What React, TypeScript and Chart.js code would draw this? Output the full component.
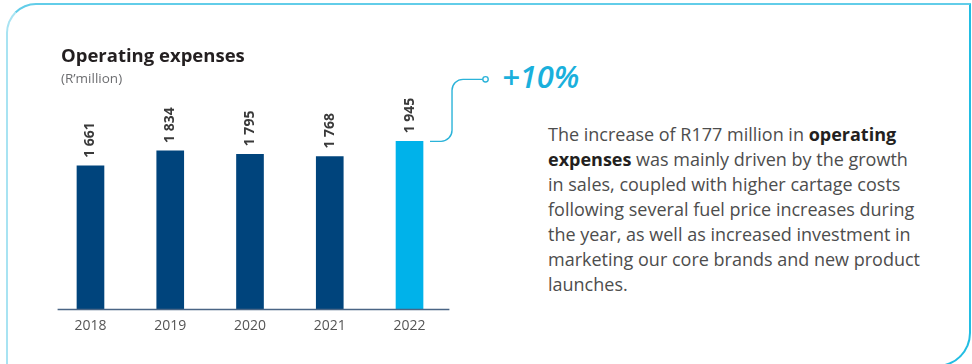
import React, { useEffect, useRef } from "react";
import { Chart, registerables } from "chart.js";

Chart.register(...registerables);

const years = ["2018", "2019", "2020", "2021", "2022"];
const expenses = [1661, 1834, 1795, 1768, 1945];
const valueLabels = ["1 661", "1 834", "1 795", "1 768", "1 945"];
const barColors = ["#00447c", "#00447c", "#00447c", "#00447c", "#00b2ea"];
const titleText = "Operating expenses";
const unitText = "(R\u2019million)";
const changeText = "+10%";

const FONT = "'Open Sans', 'Noto Sans', sans-serif";

const overlayPlugin = {
  id: "overlay",
  afterDatasetsDraw(chart: any) {
    const ctx = chart.ctx;
    const area = chart.chartArea;
    const meta = chart.getDatasetMeta(0);
    ctx.save();
    // baseline axis
    ctx.strokeStyle = "#4a6585";
    ctx.lineWidth = 1.5;
    ctx.beginPath();
    ctx.moveTo(area.left + 7, area.bottom + 0.5);
    ctx.lineTo(area.right, area.bottom + 0.5);
    ctx.stroke();
    // value labels
    ctx.fillStyle = "#3a3a3a";
    ctx.font = `bold 14px ${FONT}`;
    ctx.textAlign = "left";
    ctx.textBaseline = "middle";
    meta.data.forEach((bar: any, i: number) => {
      ctx.save();
      ctx.translate(bar.x, bar.y - 8);
      ctx.rotate(-Math.PI / 2);
      ctx.fillText(valueLabels[i], 0, 0);
      ctx.restore();
    });
    // connector from last bar
    const last = meta.data[meta.data.length - 1];
    const sx = last.x + last.width / 2 + 7;
    const sy = last.y;
    const vx = sx + 22;
    const ty = sy - 62;
    const ex = vx + 31;
    ctx.strokeStyle = "#2bb3d9";
    ctx.lineWidth = 1.4;
    ctx.beginPath();
    ctx.moveTo(sx, sy);
    ctx.arcTo(vx, sy, vx, ty, 11);
    ctx.arcTo(vx, ty, ex, ty, 11);
    ctx.lineTo(ex, ty);
    ctx.stroke();
    ctx.beginPath();
    ctx.fillStyle = "#ffffff";
    ctx.arc(ex + 2.5, ty, 2.7, 0, Math.PI * 2);
    ctx.fill();
    ctx.stroke();
    ctx.restore();
  },
};

function BarChart() {
  const ref = useRef<HTMLCanvasElement>(null);
  useEffect(() => {
    if (!ref.current) return;
    const chart = new Chart(ref.current, {
      type: "bar",
      data: {
        labels: years,
        datasets: [
          {
            data: expenses,
            backgroundColor: barColors,
            barThickness: 27,
            borderWidth: 0,
          },
        ],
      },
      options: {
        responsive: false,
        animation: false,
        devicePixelRatio: 1,
        layout: { padding: { left: 10.6, right: 50.6, top: 33.5, bottom: 11 } },
        plugins: { legend: { display: false }, tooltip: { enabled: false } },
        scales: {
          x: {
            grid: { display: false, drawTicks: false },
            border: { display: false },
            ticks: {
              color: "#555555",
              font: { family: FONT, size: 14 },
              padding: 9,
            },
            afterFit: (scale: any) => {
              scale.height = 30;
            },
          },
          y: { display: false, min: 0, max: 2500 },
        },
      },
      plugins: [overlayPlugin],
    });
    return () => chart.destroy();
  }, []);
  return (
    <canvas
      ref={ref}
      width={460}
      height={290}
      style={{ position: "absolute", left: 40, top: 60, width: 460, height: 290 }}
    />
  );
}

export default function App() {
  return (
    <div
      style={{
        position: "absolute",
        left: 0,
        top: 0,
        width: 972,
        height: 364,
        overflow: "hidden",
        background: "#ffffff",
        fontFamily: FONT,
      }}
    >
      <div
        style={{
          position: "absolute",
          left: 6,
          top: 3,
          width: 965,
          height: 364,
          boxSizing: "border-box",
          borderStyle: "solid",
          borderWidth: 2,
          borderTopColor: "#62cde9",
          borderRightColor: "#22bde2",
          borderBottomColor: "#22bde2",
          borderLeftColor: "#a8e3f2",
          borderRadius: "30px 0 34px 0",
        }}
      />
      <BarChart />
      <div
        style={{
          position: "absolute",
          left: 61,
          top: 44,
          fontSize: 18.5,
          lineHeight: "22px",
          fontWeight: 700,
          color: "#231f20",
          whiteSpace: "nowrap",
        }}
      >
        {titleText}
      </div>
      <div
        style={{
          position: "absolute",
          left: 61,
          top: 69,
          fontSize: 13.5,
          lineHeight: "18px",
          color: "#6d6e71",
          whiteSpace: "nowrap",
        }}
      >
        {unitText}
      </div>
      <div
        style={{
          position: "absolute",
          left: 502,
          top: 58,
          fontSize: 31,
          lineHeight: "36px",
          fontWeight: 600,
          fontStyle: "italic",
          color: "#1ab0dc",
          whiteSpace: "nowrap",
        }}
      >
        {changeText}
      </div>
      <div
        style={{
          position: "absolute",
          left: 548,
          top: 122,
          fontSize: 18,
          lineHeight: "25px",
          fontWeight: 400,
          color: "#4d4d4d",
          whiteSpace: "nowrap",
        }}
      >
        The increase of R177 million in <b style={{ color: "#231f20" }}>operating</b>
        <br />
        <b style={{ color: "#231f20" }}>expenses</b> was mainly driven by the growth
        <br />
        in sales, coupled with higher cartage costs
        <br />
        following several fuel price increases during
        <br />
        the year, as well as increased investment in
        <br />
        marketing our core brands and new product
        <br />
        launches.
      </div>
    </div>
  );
}
